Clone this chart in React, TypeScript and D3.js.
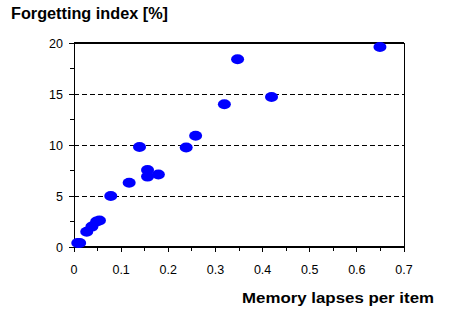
import React from "react";
import * as d3 from "d3";

const lapses = [0.008, 0.012, 0.027, 0.038, 0.048, 0.054, 0.078, 0.117, 0.139, 0.156, 0.156, 0.179, 0.238, 0.258, 0.319, 0.347, 0.419, 0.649];
const forgetting = [0.4, 0.4, 1.5, 2.0, 2.5, 2.6, 5.0, 6.3, 9.8, 7.55, 6.9, 7.1, 9.75, 10.9, 14.0, 18.4, 14.7, 19.6];
const xTicks = [0, 0.1, 0.2, 0.3, 0.4, 0.5, 0.6, 0.7];
const xMinor = [0.05, 0.15, 0.25, 0.35, 0.45, 0.55, 0.65];
const yTicks = [0, 5, 10, 15, 20];
const yMinor = [2.5, 7.5, 12.5, 17.5];
const gridVals = [5, 10, 15];

export default function App() {
  const x = d3.scaleLinear().domain([0, 0.7]).range([74, 404]);
  const y = d3.scaleLinear().domain([0, 20]).range([247, 43]);
  const font = "'Liberation Sans', Arial, sans-serif";
  return (
    <svg width={460} height={318} style={{ position: "absolute", left: 0, top: 0, background: "#fff" }}>
      <rect x={0} y={0} width={460} height={318} fill="#fff" />
      {gridVals.map((v) => (
        <line key={"g" + v} x1={x(0)} x2={x(0.7)} y1={y(v)} y2={y(v)} stroke="#000" strokeWidth={1} strokeDasharray="5,3" shapeRendering="crispEdges" />
      ))}
      <line x1={x(0)} x2={x(0.7)} y1={y(20)} y2={y(20)} stroke="#000" strokeWidth={2} shapeRendering="crispEdges" />
      <line x1={x(0.7)} x2={x(0.7)} y1={y(20)} y2={y(0)} stroke="#000" strokeWidth={1} shapeRendering="crispEdges" />
      <line x1={x(0)} x2={x(0)} y1={y(20)} y2={y(0)} stroke="#000" strokeWidth={1} shapeRendering="crispEdges" />
      <line x1={x(0)} x2={x(0.7)} y1={y(0)} y2={y(0)} stroke="#000" strokeWidth={1.5} shapeRendering="crispEdges" />
      {xTicks.map((v) => (
        <g key={"xt" + v}>
          <line x1={x(v)} x2={x(v)} y1={y(0)} y2={y(0) + 5} stroke="#000" strokeWidth={1} shapeRendering="crispEdges" />
          <text x={x(v)} y={274} textAnchor="middle" fontFamily={font} fontSize={12.5} fill="#000">{v === 0 ? "0" : v.toFixed(1)}</text>
        </g>
      ))}
      {xMinor.map((v) => (
        <line key={"xm" + v} x1={x(v)} x2={x(v)} y1={y(0)} y2={y(0) + 4} stroke="#000" strokeWidth={1} shapeRendering="crispEdges" />
      ))}
      {yTicks.map((v) => (
        <g key={"yt" + v}>
          <line x1={x(0) - 5} x2={x(0)} y1={y(v)} y2={y(v)} stroke="#000" strokeWidth={1} shapeRendering="crispEdges" />
          <text x={63} y={y(v) + 4.5} textAnchor="end" fontFamily={font} fontSize={12.5} fill="#000">{v}</text>
        </g>
      ))}
      {yMinor.map((v) => (
        <line key={"ym" + v} x1={x(0) - 4} x2={x(0)} y1={y(v)} y2={y(v)} stroke="#000" strokeWidth={1} shapeRendering="crispEdges" />
      ))}
      {lapses.map((v, i) => (
        <ellipse key={"p" + i} cx={x(v)} cy={y(forgetting[i])} rx={6.5} ry={5} fill="#0000ff" />
      ))}
      <text x={11} y={18.5} fontFamily={font} fontSize={16} fontWeight="bold" fill="#000" textLength={157} lengthAdjust="spacingAndGlyphs">Forgetting index [%]</text>
      <text x={242} y={302.5} fontFamily={font} fontSize={15} fontWeight="bold" fill="#000" textLength={192} lengthAdjust="spacingAndGlyphs">Memory lapses per item</text>
    </svg>
  );
}
